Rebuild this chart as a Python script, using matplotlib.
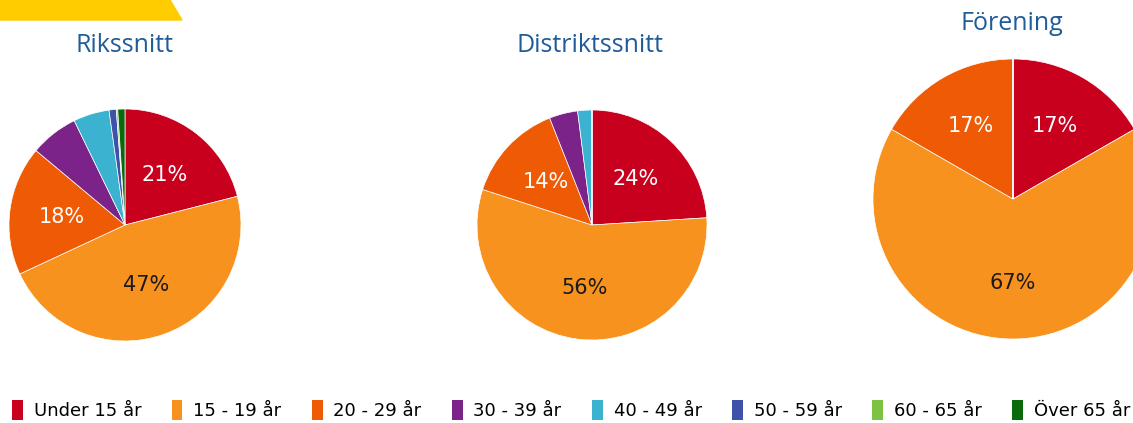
import matplotlib.pyplot as plt
from matplotlib.patches import Polygon, Patch

W, H = 1133, 423

categories = ["Under 15 år", "15 - 19 år", "20 - 29 år", "30 - 39 år",
              "40 - 49 år", "50 - 59 år", "60 - 65 år", "Över 65 år"]
colors = ["#C8001E", "#F7921E", "#EF5A05", "#7B2388",
          "#3BB3D0", "#3F51A8", "#7DC242", "#0B6A0B"]

riks = [21, 47, 18, 6.7, 5, 1, 0.2, 1]
distrikt = [24, 56, 14, 4, 2, 0, 0, 0]
forening = [16.7, 66.6, 16.7, 0, 0, 0, 0, 0]

titles = ["Rikssnitt", "Distriktssnitt", "Förening"]

# pie centre x, centre y, radius (pixels, y from top); title x, y; label distance
layout = [
    (125, 225, 116, 125, 45, 0.55),
    (592, 225, 115, 590, 45, 0.55),
    (1013, 199, 140, 1012, 23, 0.6),
]

title_color = "#1F5C99"

fig = plt.figure(figsize=(W / 100, H / 100), dpi=100)

# yellow banner in the top-left corner
banner = Polygon([(0, 1), (170 / W, 1), (182 / W, 1 - 20 / H), (0, 1 - 20 / H)],
                 closed=True, transform=fig.transFigure, color="#FFCC00", zorder=0)
fig.patches.append(banner)


def pct_label(p):
    return f"{p:.0f}%" if p >= 10 else ""


for values, title, (cx, cy, r, tx, ty, pd) in zip([riks, distrikt, forening], titles, layout):
    ax = fig.add_axes([(cx - r) / W, (H - cy - r) / H, 2 * r / W, 2 * r / H])
    wedges, texts, autotexts = ax.pie(
        values, colors=colors, startangle=90, counterclock=False,
        autopct=pct_label, pctdistance=pd,
        wedgeprops=dict(edgecolor="white", linewidth=0.5),
        textprops=dict(fontsize=15, family="DejaVu Sans"))
    for i, t in enumerate(autotexts):
        t.set_color("#1a1a1a" if i == 1 else "white")
    ax.set_xlim(-1, 1)
    ax.set_ylim(-1, 1)
    fig.text(tx / W, 1 - ty / H, title, ha="center", va="center",
             fontsize=18, color=title_color, family="Open Sans")

handles = [Patch(facecolor=c, edgecolor="none") for c in colors]
fig.legend(handles, categories, loc="center", bbox_to_anchor=(571 / W, 1 - 410 / H),
           ncol=8, frameon=False, fontsize=13, handlelength=0.6,
           handleheight=1.4, handletextpad=0.6, columnspacing=1.68,
           borderaxespad=0)

fig.savefig("out.png", dpi=100)
